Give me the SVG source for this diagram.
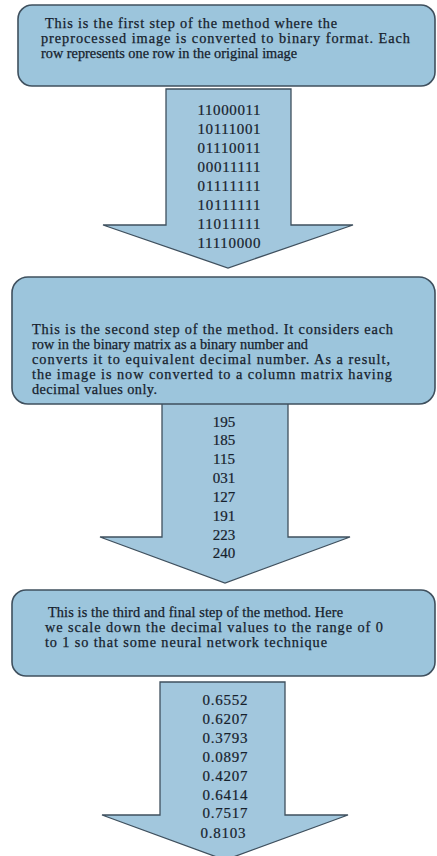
<svg xmlns="http://www.w3.org/2000/svg" width="437" height="856" viewBox="0 0 437 856">
<defs>
<style>
.box{fill:#9cc5dc;stroke:#3f505e;stroke-width:1.6}
.arrow{fill:#a2c7dd;stroke:#3f505e;stroke-width:1.3;stroke-linejoin:miter}
.t{font-family:"Liberation Serif","Times New Roman",serif;font-size:14.3px;fill:#16212c;stroke:#16212c;stroke-width:0.25}
.n{font-family:"Liberation Serif","Times New Roman",serif;font-size:15px;fill:#16212c;stroke:#16212c;stroke-width:0.2;text-anchor:middle}
</style>
</defs>
<rect width="437" height="856" fill="#ffffff"/>
<g id="connectors">
<polygon id="arrow1" class="arrow" points="166,89 291,89 291,225 353,225 228,268 103,225 166,225"/>
<polygon id="arrow2" class="arrow" points="162,403 288,403 288,537 350,537 225,583 100,537 162,537"/>
<polygon id="arrow3" class="arrow" points="160,682 285,682 285,815 348,815 225,860 102,815 160,815"/>
</g>
<g id="step1">
<rect class="box" x="18" y="5" width="417" height="81" rx="14"/>
<text class="t" x="45" y="28" textLength="292" lengthAdjust="spacing">This is the first step of the method where the</text>
<text class="t" x="41" y="43" textLength="369" lengthAdjust="spacing">preprocessed image is converted to binary format. Each</text>
<text class="t" x="41" y="58">row represents one row in the original image</text>
</g>
<g id="binary">
<text class="n" x="229" y="115" textLength="63">11000011</text>
<text class="n" x="229" y="134" textLength="63">10111001</text>
<text class="n" x="229" y="153" textLength="63">01110011</text>
<text class="n" x="229" y="172" textLength="63">00011111</text>
<text class="n" x="229" y="191" textLength="63">01111111</text>
<text class="n" x="229" y="210" textLength="63">10111111</text>
<text class="n" x="229" y="229" textLength="63">11011111</text>
<text class="n" x="229" y="248" textLength="63">11110000</text>
</g>
<g id="step2">
<rect class="box" x="12" y="277" width="423" height="127" rx="16"/>
<text class="t" x="32" y="334" textLength="361" lengthAdjust="spacing">This is the second step of the method. It considers each</text>
<text class="t" x="32" y="349">row in the binary matrix as a binary number and</text>
<text class="t" x="32" y="364" textLength="358" lengthAdjust="spacing">converts it to equivalent decimal number. As a result,</text>
<text class="t" x="32" y="379" textLength="360" lengthAdjust="spacing">the image is now converted to a column matrix having</text>
<text class="t" x="32" y="394" textLength="125" lengthAdjust="spacing">decimal values only.</text>
</g>
<g id="decimal">
<text class="n" x="224" y="427">195</text>
<text class="n" x="224" y="445">185</text>
<text class="n" x="224" y="464">115</text>
<text class="n" x="224" y="483">031</text>
<text class="n" x="224" y="502">127</text>
<text class="n" x="224" y="521">191</text>
<text class="n" x="224" y="540">223</text>
<text class="n" x="224" y="558">240</text>
</g>
<g id="step3">
<rect class="box" x="12" y="590" width="423" height="86" rx="14"/>
<text class="t" x="48" y="617" textLength="295" lengthAdjust="spacing">This is the third and final step of the method. Here</text>
<text class="t" x="45" y="632" textLength="338" lengthAdjust="spacing">we scale down the decimal values to the range of 0</text>
<text class="t" x="45" y="647" textLength="282" lengthAdjust="spacing">to 1 so that some neural network technique</text>
</g>
<g id="scaled">
<text class="n" x="225" y="705" textLength="45">0.6552</text>
<text class="n" x="225" y="724" textLength="45">0.6207</text>
<text class="n" x="225" y="743" textLength="45">0.3793</text>
<text class="n" x="225" y="762" textLength="45">0.0897</text>
<text class="n" x="225" y="781" textLength="45">0.4207</text>
<text class="n" x="225" y="800" textLength="45">0.6414</text>
<text class="n" x="225" y="818" textLength="45">0.7517</text>
<text class="n" x="223" y="838" textLength="45">0.8103</text>
</g>
</svg>
